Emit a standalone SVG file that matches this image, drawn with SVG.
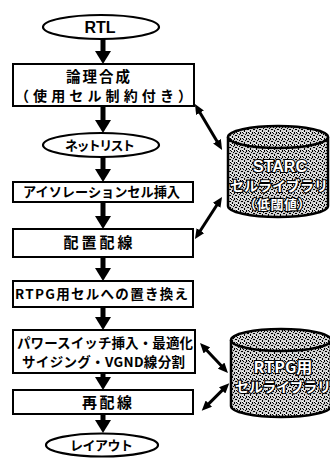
<svg xmlns="http://www.w3.org/2000/svg" width="330" height="472" viewBox="0 0 330 472">
<style>
.box{fill:#fff;stroke:#000;stroke-width:2}
.ell{fill:#fff;stroke:#000;stroke-width:2.2}
.cyl{fill:url(#noise);stroke:#000;stroke-width:2.5}
.t{font-family:"Noto Sans CJK JP","Noto Sans",sans-serif;font-weight:700;fill:#000;text-anchor:middle}
.c{font-family:"Noto Sans CJK JP","Noto Sans",sans-serif;font-weight:700;fill:#fff;stroke:#000;stroke-width:2.2;paint-order:stroke;text-anchor:middle}
.v{stroke:#000;stroke-width:5;fill:none;marker-end:url(#ah)}
.d{stroke:#000;stroke-width:3;fill:none;marker-start:url(#dh);marker-end:url(#dh)}
</style>
<defs>
<pattern id="noise" width="6" height="6" patternUnits="userSpaceOnUse">
<rect width="6" height="6" fill="#d0d0d0"/>
<rect x="0" y="0" width="1" height="2" fill="#000"/>
<rect x="3" y="1" width="1" height="1" fill="#000"/>
<rect x="1" y="3" width="2" height="1" fill="#000"/>
<rect x="4" y="4" width="1" height="2" fill="#000"/>
<rect x="5" y="2" width="1" height="1" fill="#000"/>
<rect x="2" y="0" width="1" height="1" fill="#000"/>
<rect x="2" y="5" width="1" height="1" fill="#fff"/>
<rect x="4" y="0" width="1" height="1" fill="#fff"/>
</pattern>
<marker id="ah" markerUnits="userSpaceOnUse" markerWidth="13" markerHeight="16" viewBox="0 0 13 16" refX="2" refY="8" orient="auto"><path d="M0,0 L13,8 L0,16 Z" fill="#000"/></marker>
<marker id="dh" markerUnits="userSpaceOnUse" markerWidth="10" markerHeight="9" viewBox="0 0 10 9" refX="2" refY="4.5" orient="auto-start-reverse"><path d="M0,0 L10,4.5 L0,9 Z" fill="#000"/></marker>
</defs>

<g id="connectors">
<line class="v" x1="103" y1="39" x2="103" y2="53"/>
<line class="v" x1="103" y1="106" x2="103" y2="122"/>
<line class="v" x1="103" y1="157" x2="103" y2="171"/>
<line class="v" x1="103" y1="202" x2="103" y2="218"/>
<line class="v" x1="103" y1="257" x2="103" y2="270"/>
<line class="v" x1="103" y1="307" x2="103" y2="319"/>
<line class="v" x1="103" y1="373" x2="103" y2="379"/>
<line class="v" x1="103" y1="414" x2="103" y2="422"/>
<line class="d" x1="199" y1="111" x2="218" y2="143"/>
<line class="d" x1="199.3" y1="232.3" x2="217.7" y2="203.7"/>
<line class="d" x1="205.5" y1="348.9" x2="222.5" y2="367.1"/>
<line class="d" x1="207.4" y1="405.1" x2="223.6" y2="388.9"/>
</g>

<g id="rtl">
<ellipse class="ell" cx="101" cy="27" rx="58" ry="12"/>
<text class="t" x="100" y="33" style="font-family:'Liberation Sans',Arial,sans-serif" font-size="16">RTL</text>
</g>

<g id="synth">
<rect class="box" x="13" y="64" width="181" height="42"/>
<text class="t" x="98" y="82" font-size="14.5" textLength="64" lengthAdjust="spacing">論理合成</text>
<text class="t" x="103.5" y="101" font-size="14" textLength="177" lengthAdjust="spacing">（使用セル制約付き）</text>
</g>

<g id="netlist">
<ellipse class="ell" cx="101" cy="145" rx="58" ry="12"/>
<text class="t" x="100" y="150" font-size="13" textLength="70" lengthAdjust="spacing">ネットリスト</text>
</g>

<g id="isolation">
<rect class="box" x="13" y="182" width="180" height="20"/>
<text class="t" x="101.5" y="197" font-size="13.2" textLength="157" lengthAdjust="spacing">アイソレーションセル挿入</text>
</g>

<g id="pnr">
<rect class="box" x="13" y="229" width="180" height="28"/>
<text class="t" x="98" y="248" font-size="15" textLength="69" lengthAdjust="spacing">配置配線</text>
</g>

<g id="replace">
<rect class="box" x="13" y="281" width="180" height="26"/>
<text class="t" x="101.5" y="299" font-size="13.5" textLength="173" lengthAdjust="spacing">RTPG用セルへの置き換え</text>
</g>

<g id="powerswitch">
<rect class="box" x="13" y="330" width="182" height="43"/>
<text class="t" x="105" y="348" font-size="13.5" textLength="176" lengthAdjust="spacing">パワースイッチ挿入・最適化</text>
<text class="t" x="103.5" y="367" font-size="13.5" textLength="163" lengthAdjust="spacing">サイジング・VGND線分割</text>
</g>

<g id="reroute">
<rect class="box" x="13" y="390" width="180" height="24"/>
<text class="t" x="107" y="407.5" font-size="15" textLength="50" lengthAdjust="spacing">再配線</text>
</g>

<g id="layout">
<ellipse class="ell" cx="102" cy="445" rx="56" ry="11.5"/>
<text class="t" x="101.5" y="450" font-size="13" textLength="63" lengthAdjust="spacing">レイアウト</text>
</g>

<g id="starc-lib">
<path class="cyl" d="M228,137 L228,206 A50,11 0 0 0 328,206 L328,137"/>
<ellipse class="cyl" cx="278" cy="137" rx="50" ry="11"/>
<text class="c" x="280" y="172" font-size="16" style="font-family:'Liberation Sans',Arial,sans-serif">STARC</text>
<text class="c" x="279" y="191" font-size="14" textLength="98" lengthAdjust="spacing">セルライブラリ</text>
<text class="c" x="277" y="209" font-size="13" textLength="67" lengthAdjust="spacing">（低閾値）</text>
</g>

<g id="rtpg-lib">
<path class="cyl" d="M231,340 L231,406 A50,11 0 0 0 331,406 L331,340"/>
<ellipse class="cyl" cx="281" cy="340" rx="50" ry="11"/>
<text class="c" x="283" y="373" font-size="16">RTPG用</text>
<text class="c" x="283" y="392" font-size="14" textLength="96" lengthAdjust="spacing">セルライブラリ</text>
</g>
</svg>
